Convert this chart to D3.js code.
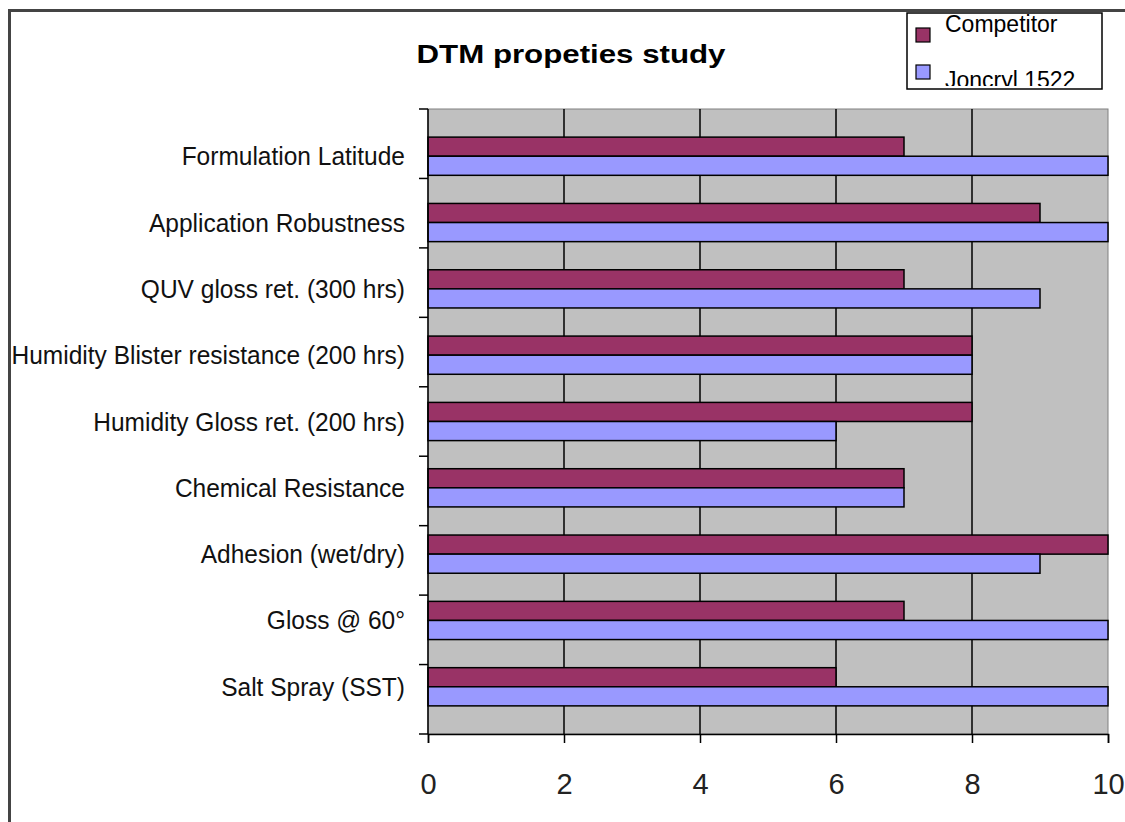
<!DOCTYPE html>
<html>
<head>
<meta charset="utf-8">
<script src="https://cdn.jsdelivr.net/npm/d3@7"></script>
<style>
  body { margin: 0; background: #fff; }
  svg { display: block; }
</style>
</head>
<body>
<script>
// Width and height of svg
var w = 1125;
var h = 822;

// Chart data, top category first
var categories = ["Formulation Latitude", "Application Robustness", "QUV gloss ret. (300 hrs)",
                  "Humidity Blister resistance (200 hrs)", "Humidity Gloss ret. (200 hrs)",
                  "Chemical Resistance", "Adhesion (wet/dry)", "Gloss @ 60°", "Salt Spray (SST)"];
var competitor = [7, 9, 7, 8, 8, 7, 10, 7, 6];
var joncryl    = [10, 10, 9, 8, 6, 7, 9, 10, 10];
var seriesNames = ["Competitor", "Joncryl 1522"];
var seriesColors = ["#993366", "#9999ff"];
var xTicks = [0, 2, 4, 6, 8, 10];

// Plot area
var plot = { left: 428, right: 1108, top: 109, bottom: 734 };

var svg = d3.select("body")
        .append("svg")
        .attr("width", w)
        .attr("height", h);

// Outer chart border (right/bottom edges sit off the picture)
svg.append("rect")
    .attr("x", 9.5).attr("y", 10.5)
    .attr("width", 1140).attr("height", 840)
    .attr("fill", "#fff")
    .attr("stroke", "#444")
    .attr("stroke-width", 3);

var x = d3.scaleLinear()
    .domain([0, 10])
    .range([plot.left, plot.right]);

var y = d3.scaleBand()
    .domain(categories)
    .range([plot.top, plot.bottom])
    .padding(0.424);

var ySeries = d3.scaleBand()
    .domain(seriesNames)
    .range([0, y.bandwidth()]);

// Plot background
svg.append("rect")
    .attr("x", plot.left).attr("y", plot.top)
    .attr("width", plot.right - plot.left)
    .attr("height", plot.bottom - plot.top)
    .attr("fill", "#c0c0c0")
    .attr("stroke", "#808080")
    .attr("stroke-width", 1);

// Vertical gridlines
svg.selectAll("line.grid")
    .data(xTicks.slice(1, -1))
    .enter().append("line")
    .attr("class", "grid")
    .attr("x1", function(d) { return x(d); })
    .attr("x2", function(d) { return x(d); })
    .attr("y1", plot.top)
    .attr("y2", plot.bottom)
    .attr("stroke", "#000")
    .attr("stroke-width", 1.5);

// Bars
var rows = categories.map(function(c, i) {
    return { cat: c, values: [competitor[i], joncryl[i]] };
});

var groups = svg.selectAll("g.row")
    .data(rows)
    .enter().append("g")
    .attr("class", "row")
    .attr("transform", function(d) { return "translate(0," + y(d.cat) + ")"; });

groups.selectAll("rect")
    .data(function(d) {
        return d.values.map(function(v, k) { return { name: seriesNames[k], value: v, k: k }; });
    })
    .enter().append("rect")
    .attr("x", x(0))
    .attr("y", function(d) { return ySeries(d.name); })
    .attr("width", function(d) { return x(d.value) - x(0); })
    .attr("height", ySeries.bandwidth())
    .attr("fill", function(d) { return seriesColors[d.k]; })
    .attr("stroke", "#000")
    .attr("stroke-width", 1.5);

// Left axis: ticks at category boundaries
var bounds = d3.range(categories.length + 1).map(function(i) {
    return plot.top + i * (plot.bottom - plot.top) / categories.length;
});
svg.selectAll("line.ytick")
    .data(bounds)
    .enter().append("line")
    .attr("class", "ytick")
    .attr("x1", plot.left - 9).attr("x2", plot.left)
    .attr("y1", function(d) { return d; })
    .attr("y2", function(d) { return d; })
    .attr("stroke", "#000")
    .attr("stroke-width", 1.5);
svg.append("line")
    .attr("x1", plot.left).attr("x2", plot.left)
    .attr("y1", plot.top).attr("y2", plot.bottom)
    .attr("stroke", "#000").attr("stroke-width", 1.5);

svg.selectAll("text.cat")
    .data(categories)
    .enter().append("text")
    .attr("class", "cat")
    .attr("transform", function(d) {
        return "translate(405," + (y(d) + y.bandwidth() / 2 + 9) + ") scale(0.98,1)";
    })
    .attr("text-anchor", "end")
    .attr("font-family", "'Liberation Sans', Arial, sans-serif")
    .attr("font-size", 25)
    .attr("fill", "#111")
    .text(function(d) { return d; });

// Bottom axis
var xAxis = svg.append("g")
    .attr("transform", "translate(0," + plot.bottom + ")")
    .call(d3.axisBottom(x).tickValues(xTicks).tickSize(9).tickPadding(30).tickFormat(d3.format("d")));
xAxis.select(".domain").attr("stroke", "#000").attr("stroke-width", 1.5);
xAxis.selectAll(".tick line").attr("stroke", "#000").attr("stroke-width", 1.5);
xAxis.selectAll(".tick text")
    .attr("font-family", "'Liberation Sans', Arial, sans-serif")
    .attr("font-size", 29)
    .attr("fill", "#222");

// Title
svg.append("text")
    .attr("transform", "translate(571,63) scale(1.25,1)")
    .attr("text-anchor", "middle")
    .attr("font-family", "'Liberation Sans', Arial, sans-serif")
    .attr("font-weight", "bold")
    .attr("font-size", 25)
    .attr("fill", "#000")
    .text("DTM propeties study");

// Legend
var legend = svg.append("g").attr("class", "legend");
legend.append("clipPath").attr("id", "legclip")
    .append("rect").attr("x", 907).attr("y", 13).attr("width", 195).attr("height", 73);
legend.append("rect")
    .attr("x", 907).attr("y", 13)
    .attr("width", 195).attr("height", 76)
    .attr("fill", "#fff")
    .attr("stroke", "#000")
    .attr("stroke-width", 1.5);
var legItems = legend.selectAll("g.item")
    .data(seriesNames)
    .enter().append("g")
    .attr("class", "item")
    .attr("clip-path", "url(#legclip)");
legItems.append("rect")
    .attr("x", 916)
    .attr("y", function(d, i) { return i === 0 ? 28 : 65; })
    .attr("width", 14).attr("height", 14)
    .attr("fill", function(d, i) { return seriesColors[i]; })
    .attr("stroke", "#000")
    .attr("stroke-width", 1.2);
legItems.append("text")
    .attr("x", 945)
    .attr("y", function(d, i) { return i === 0 ? 32 : 88; })
    .attr("font-family", "'Liberation Sans', Arial, sans-serif")
    .attr("font-size", 23)
    .attr("fill", "#000")
    .text(function(d) { return d; });
</script>
</body>
</html>
